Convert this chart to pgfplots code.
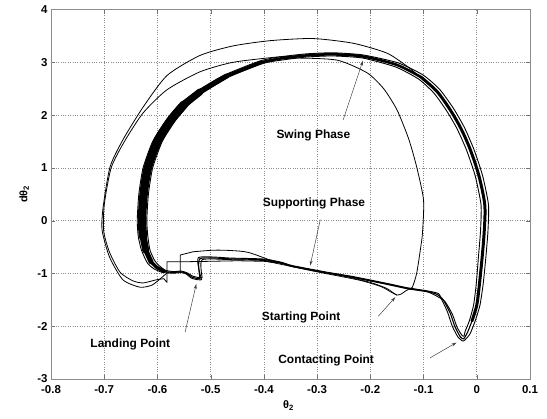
\documentclass[border=0pt]{standalone}
\usepackage{fontspec}
\setmainfont{Liberation Sans}
\usepackage{pgfplots}
\pgfplotsset{compat=1.18}
\usetikzlibrary{arrows.meta,calc}

\begin{document}
\begin{tikzpicture}
\begin{axis}[
  scale only axis, width=479bp, height=369.5bp,
  xmin=-0.8, xmax=0.1, ymin=-3, ymax=4,
  xtick={-0.8,-0.7,-0.6,-0.5,-0.4,-0.3,-0.2,-0.1,0,0.1},
  xticklabels={-0.8,-0.7,-0.6,-0.5,-0.4,-0.3,-0.2,-0.1,0,0.1},
  ytick={-3,-2,-1,0,1,2,3,4},
  yticklabels={-3,-2,-1,0,1,2,3,4},
  tick label style={font=\fontsize{11.5}{13}\selectfont\bfseries},
  xticklabel style={yshift=-3bp},
  grid=major,
  major grid style={dotted, black!45, line width=0.6pt},
  axis line style={black!45},
  tick style={black!55},
  tick align=inside, major tick length=4bp,
  xlabel={θ\textsubscript{2}},
  ylabel={dθ\textsubscript{2}},
  label style={font=\fontsize{11}{13}\selectfont\bfseries},
  xlabel style={at={(axis description cs:0.496,-0.072)}, anchor=center},
  ylabel style={at={(axis description cs:-0.056,0.5)}, anchor=center},
  every axis plot/.append style={black, no markers, line join=round, line cap=round},
]

% ---- limit cycle: three neighbouring periods ----
\addplot[line width=1.1pt, smooth, tension=0.35] coordinates {
(-0.520,-1.10) (-0.520,-0.72) (-0.460,-0.725) (-0.400,-0.74) (-0.366,-0.80)
(-0.347,-0.86) (-0.285,-0.98) (-0.232,-1.07) (-0.168,-1.20) (-0.131,-1.28)
(-0.093,-1.34) (-0.074,-1.40) (-0.063,-1.50) (-0.050,-1.75) (-0.041,-2.01)
(-0.031,-2.20) (-0.025,-2.24) (-0.018,-2.13) (-0.009,-1.90) (0.000,-1.60)
(0.005,-1.20) (0.010,-0.70) (0.014,-0.20) (0.015,0.30) (0.004,0.85)
(-0.012,1.34) (-0.030,1.75) (-0.050,2.10) (-0.075,2.45) (-0.105,2.72)
(-0.150,2.95) (-0.214,3.11) (-0.270,3.15) (-0.320,3.13) (-0.370,3.07)
(-0.405,3.00) (-0.470,2.74) (-0.520,2.44) (-0.550,2.20) (-0.575,1.90)
(-0.600,1.50) (-0.618,1.00) (-0.626,0.50) (-0.629,0.00) (-0.627,-0.30)
(-0.622,-0.56) (-0.612,-0.78) (-0.602,-0.88) (-0.588,-0.96) (-0.570,-0.98)
(-0.555,-0.97) (-0.545,-1.00) (-0.535,-1.07) (-0.524,-1.10) (-0.520,-1.10)
};
\addplot[line width=0.9pt, smooth, tension=0.35] coordinates {
(-0.517,-1.12) (-0.523,-0.70) (-0.460,-0.71) (-0.400,-0.727) (-0.366,-0.79)
(-0.347,-0.85) (-0.285,-0.97) (-0.232,-1.06) (-0.168,-1.19) (-0.131,-1.27)
(-0.093,-1.33) (-0.072,-1.38) (-0.067,-1.47) (-0.055,-1.73) (-0.046,-2.00)
(-0.035,-2.21) (-0.025,-2.28) (-0.013,-2.15) (-0.003,-1.90) (0.006,-1.60)
(0.012,-1.20) (0.017,-0.70) (0.021,-0.20) (0.022,0.30) (0.011,0.85)
(-0.005,1.34) (-0.023,1.76) (-0.044,2.13) (-0.070,2.49) (-0.101,2.76)
(-0.148,2.99) (-0.214,3.14) (-0.270,3.18) (-0.320,3.16) (-0.372,3.10)
(-0.409,3.02) (-0.476,2.75) (-0.528,2.44) (-0.559,2.20) (-0.584,1.90)
(-0.609,1.50) (-0.627,1.00) (-0.635,0.50) (-0.638,0.00) (-0.636,-0.30)
(-0.630,-0.56) (-0.619,-0.80) (-0.607,-0.91) (-0.591,-0.98) (-0.570,-0.995)
(-0.555,-0.985) (-0.546,-1.01) (-0.536,-1.09) (-0.524,-1.12) (-0.517,-1.12)
};
\addplot[line width=0.9pt, smooth, tension=0.35] coordinates {
(-0.516,-1.08) (-0.516,-0.74) (-0.460,-0.74) (-0.400,-0.755) (-0.366,-0.81)
(-0.347,-0.87) (-0.285,-0.99) (-0.232,-1.08) (-0.168,-1.21) (-0.131,-1.29)
(-0.093,-1.35) (-0.077,-1.42) (-0.060,-1.53) (-0.046,-1.77) (-0.037,-2.02)
(-0.028,-2.17) (-0.024,-2.19) (-0.022,-2.10) (-0.014,-1.90) (-0.006,-1.60)
(-0.001,-1.20) (0.003,-0.70) (0.007,-0.20) (0.008,0.30) (-0.003,0.85)
(-0.019,1.33) (-0.037,1.74) (-0.056,2.07) (-0.080,2.41) (-0.109,2.68)
(-0.152,2.91) (-0.214,3.08) (-0.270,3.12) (-0.320,3.10) (-0.368,3.04)
(-0.401,2.98) (-0.464,2.73) (-0.512,2.44) (-0.541,2.20) (-0.566,1.90)
(-0.591,1.50) (-0.609,1.00) (-0.617,0.50) (-0.620,0.00) (-0.618,-0.30)
(-0.614,-0.56) (-0.605,-0.76) (-0.597,-0.85) (-0.585,-0.94) (-0.570,-0.965)
(-0.555,-0.955) (-0.544,-0.99) (-0.534,-1.05) (-0.522,-1.08) (-0.516,-1.08)
};

% dense part of the swing phase (many overlapping periods)
\addplot[line width=2.6pt, smooth] coordinates {
(-0.105,2.72) (-0.150,2.95) (-0.214,3.11) (-0.270,3.15) (-0.320,3.13)
(-0.370,3.07) (-0.405,3.00)
};
\addplot[line width=3.5pt] coordinates {(-0.405,3.00) (-0.470,2.74)};
\addplot[line width=5pt] coordinates {(-0.470,2.74) (-0.520,2.44)};
\addplot[line width=7pt] coordinates {(-0.520,2.44) (-0.550,2.20)};
\addplot[line width=8.5pt, smooth] coordinates {
(-0.550,2.20) (-0.575,1.90) (-0.600,1.50) (-0.618,1.00)
(-0.626,0.50) (-0.629,0.00) (-0.627,-0.30)
};
\addplot[line width=7pt] coordinates {(-0.627,-0.30) (-0.622,-0.56)};
\addplot[line width=5pt] coordinates {(-0.622,-0.56) (-0.612,-0.78)};
\addplot[line width=3.5pt] coordinates {(-0.612,-0.78) (-0.602,-0.88) (-0.588,-0.96)};
\addplot[line width=3pt, smooth] coordinates {
(-0.009,-1.90) (0.000,-1.60) (0.005,-1.20) (0.010,-0.70) (0.014,-0.20)
(0.015,0.30) (0.004,0.85) (-0.012,1.34) (-0.030,1.75) (-0.050,2.10)
(-0.075,2.45) (-0.105,2.72)
};

% ---- first step from the starting point ----
\addplot[line width=0.8pt, smooth, tension=0.4] coordinates {
(-0.345,-0.87) (-0.300,-0.95) (-0.250,-1.05) (-0.200,-1.17) (-0.170,-1.28)
(-0.158,-1.36) (-0.150,-1.41) (-0.142,-1.39) (-0.135,-1.34) (-0.128,-1.30)
(-0.121,-1.26) (-0.113,-1.00) (-0.106,-0.55) (-0.102,-0.23) (-0.100,0.39)
(-0.113,1.02) (-0.128,1.55) (-0.150,2.10) (-0.175,2.50) (-0.206,2.80)
(-0.262,3.04) (-0.337,3.08) (-0.388,3.05)
};
\addplot[line width=0.7pt, smooth, tension=0.4] coordinates {
(-0.400,-0.76) (-0.300,-0.97) (-0.220,-1.13) (-0.180,-1.25) (-0.160,-1.36)
(-0.150,-1.41)
};

% ---- transient periods with a larger swing ----
\addplot[line width=0.8pt, smooth, tension=0.4] coordinates {
(-0.110,2.74) (-0.125,2.88) (-0.168,3.17) (-0.232,3.36) (-0.308,3.45)
(-0.388,3.41) (-0.458,3.31) (-0.520,3.13) (-0.582,2.75) (-0.627,2.15)
(-0.665,1.53) (-0.689,1.02) (-0.702,0.26) (-0.704,-0.18) (-0.690,-0.69)
(-0.665,-1.12) (-0.633,-1.26) (-0.610,-1.22) (-0.590,-1.06) (-0.582,-0.99)
};
\addplot[line width=0.8pt, smooth, tension=0.4] coordinates {
(-0.330,3.12) (-0.375,3.10) (-0.458,3.00) (-0.520,2.82) (-0.582,2.48)
(-0.627,2.04) (-0.662,1.50) (-0.687,1.00) (-0.700,0.30) (-0.701,-0.20)
(-0.690,-0.60) (-0.670,-0.98) (-0.646,-1.14) (-0.627,-1.18) (-0.602,-1.12)
(-0.588,-1.10)
};
\addplot[line width=0.8pt] coordinates {
(-0.588,-1.10) (-0.582,-1.17) (-0.582,-0.78) (-0.557,-0.78) (-0.500,-0.77)
(-0.450,-0.76) (-0.400,-0.77) (-0.366,-0.81)
};
\addplot[line width=0.8pt] coordinates {
(-0.582,-0.99) (-0.557,-0.97) (-0.557,-0.65) (-0.533,-0.59)
};
\addplot[line width=0.8pt, smooth, tension=0.5] coordinates {
(-0.533,-0.59) (-0.495,-0.56) (-0.464,-0.565) (-0.430,-0.60) (-0.390,-0.74)
(-0.360,-0.83) (-0.347,-0.86)
};

% ---- annotations ----
\tikzset{lbl/.style={font=\fontsize{12}{14}\selectfont\bfseries},
         pointer/.style={black!75, line width=0.5pt, -{Stealth[length=5pt,width=3pt]}}}
\node[lbl] at (axis cs:-0.307,1.62) {Swing Phase};
\draw[pointer] (axis cs:-0.251,1.91) -- (axis cs:-0.214,3.03);
\node[lbl] at (axis cs:-0.306,0.33) {Supporting Phase};
\draw[pointer] (axis cs:-0.294,0.02) -- (axis cs:-0.313,-0.85);
\node[lbl] at (axis cs:-0.330,-1.84) {Starting Point};
\draw[pointer] (axis cs:-0.185,-1.81) -- (axis cs:-0.153,-1.45);
\node[lbl] at (axis cs:-0.283,-2.64) {Contacting Point};
\draw[pointer] (axis cs:-0.088,-2.60) -- (axis cs:-0.038,-2.31);
\node[lbl] at (axis cs:-0.651,-2.35) {Landing Point};
\draw[pointer] (axis cs:-0.548,-2.11) -- (axis cs:-0.527,-1.20);
\end{axis}
\pgfresetboundingbox
\path ($(current axis.south west)+(-51bp,-39bp)$) rectangle ($(current axis.north east)+(17bp,9.5bp)$);
\end{tikzpicture}
\end{document}
